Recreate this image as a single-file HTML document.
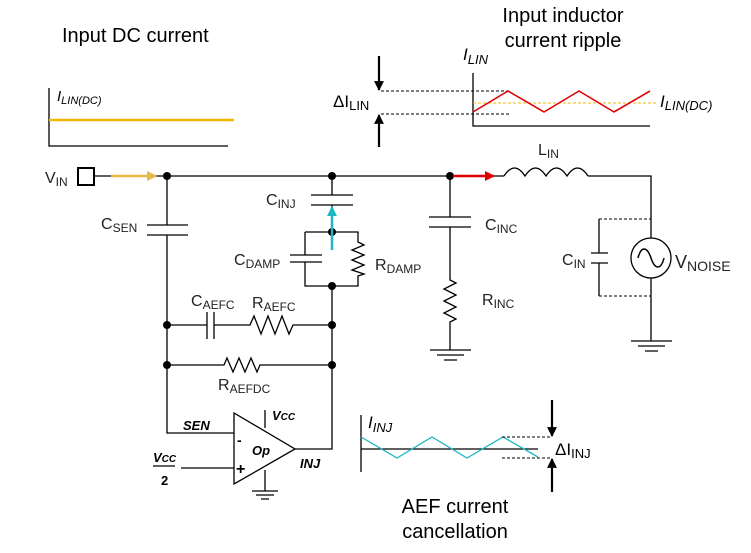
<!DOCTYPE html>
<html><head><meta charset="utf-8"><style>
html,body{margin:0;padding:0;background:#fff;width:751px;height:553px;overflow:hidden}
svg{display:block;font-family:"Liberation Sans",Arial,sans-serif}
</style></head><body>
<svg width="751" height="553" viewBox="0 0 751 553" xmlns="http://www.w3.org/2000/svg">
<defs>
<marker id="ay" viewBox="0 0 10 10" refX="9" refY="5" markerWidth="4" markerHeight="4" orient="auto"><path d="M0,0L10,5L0,10z" fill="#e6b84a"/></marker>
<marker id="ar" viewBox="0 0 10 10" refX="9" refY="5" markerWidth="4" markerHeight="4" orient="auto"><path d="M0,0L10,5L0,10z" fill="#e00000"/></marker>
<marker id="ac" viewBox="0 0 10 10" refX="9" refY="5" markerWidth="4" markerHeight="4" orient="auto"><path d="M0,0L10,5L0,10z" fill="#1ab8c4"/></marker>
<marker id="ak" viewBox="0 0 10 10" refX="9" refY="5" markerWidth="4.5" markerHeight="4.5" orient="auto"><path d="M0,0L10,5L0,10z" fill="#000"/></marker>
</defs>
<g font-size="20" fill="#000">
<text x="62" y="42">Input DC current</text>
<text x="563" y="22" text-anchor="middle">Input inductor</text>
<text x="563" y="47" text-anchor="middle">current ripple</text>
<text x="455" y="513" text-anchor="middle">AEF current</text>
<text x="455" y="538" text-anchor="middle">cancellation</text>
</g>
<path d="M49,88V146H228" stroke="#000" stroke-width="1.3" fill="none"/>
<line x1="49" y1="120" x2="234" y2="120" stroke="#f5b800" stroke-width="2.5"/>
<text x="57" y="101" font-size="15" font-style="italic">I<tspan font-size="11" dy="3">LIN(DC)</tspan></text>
<path d="M473,73V126H650" stroke="#000" stroke-width="1.3" fill="none"/>
<line x1="473" y1="103" x2="657" y2="103" stroke="#f5b800" stroke-width="1" stroke-dasharray="3,2"/>
<path d="M381,91H508M381,114H509" stroke="#000" stroke-width="1" stroke-dasharray="3,2"/>
<polyline points="473,112 508,91 544,112 579,91 614,112 650,91" fill="none" stroke="#e00000" stroke-width="1.6"/>
<line x1="379" y1="56" x2="379" y2="90" stroke="#000" stroke-width="2.2" marker-end="url(#ak)"/>
<line x1="379" y1="147" x2="379" y2="115" stroke="#000" stroke-width="2.2" marker-end="url(#ak)"/>
<text x="333" y="107" font-size="17">ΔI<tspan font-size="13" dy="3">LIN</tspan></text>
<text x="463" y="60" font-size="17" font-style="italic">I<tspan font-size="13" dy="4">LIN</tspan></text>
<text x="660" y="107" font-size="17" font-style="italic">I<tspan font-size="13" dy="3">LIN(DC)</tspan></text>
<g stroke="#000" stroke-width="1.3" fill="none">
<rect x="78" y="168" width="16" height="17" stroke-width="2"/>
<path d="M94,176H504M588,176H651V238M651,278V341"/>
<path d="M504,176 q10.5,-16 21,0 q10.5,-16 21,0 q10.5,-16 21,0 q10.5,-16 21,0"/>
<path d="M167,176V225M167,235V433H234"/>
<path d="M147,225H188M147,235H188"/>
<path d="M332,176V195M332,205V232M311,195H353M311,205H353"/>
<path d="M305,232H358V242l6,3l-12,5l12,5l-12,5l12,5l-12,5l12,4l-6,2V286H305V262M305,255V232"/>
<path d="M290,255H322M290,262H322"/>
<path d="M332,286V449H295"/>
<path d="M167,325H207M214,325H250l4,-9l7,18l7,-18l7,18l7,-18l7,18l4,-9H332"/>
<path d="M207,312V339M214,312V339"/>
<path d="M167,365H224l3,-7l6,14l6,-14l6,14l6,-14l6,14l3,-7H332"/>
<path d="M234,413V484L295,449Z"/>
<path d="M265,410V428M265,470V491M252,491H278M256,495H274M261,499H269"/>
<path d="M181,468H234"/>
<path d="M450,176V217M450,227V280l6,3l-12,6l12,6l-12,6l12,6l-12,6l12,6l-6,3V350M429,217H471M429,227H471M430,350H471M437,355H464M444,360H457"/>
<path d="M631,341H672M638,346H665M645,351H658"/>
<circle cx="651" cy="258" r="20"/>
<path d="M638,258 c3,-12 9,-12 13,0 c4,12 10,12 13,0" stroke-width="1.5"/>
<path d="M599,219V253M599,263V296M591,253H608M591,263H608"/>
</g>
<path d="M599,219H651M599,296H651" stroke="#000" stroke-width="1" stroke-dasharray="3,2"/>
<g fill="#000">
<circle cx="167" cy="176" r="4"/><circle cx="332" cy="176" r="4"/><circle cx="450" cy="176" r="4"/>
<circle cx="332" cy="232" r="4"/><circle cx="332" cy="286" r="4"/>
<circle cx="167" cy="325" r="4"/><circle cx="332" cy="325" r="4"/>
<circle cx="167" cy="365" r="4"/><circle cx="332" cy="365" r="4"/>
</g>
<line x1="111" y1="176" x2="156" y2="176" stroke="#e6b84a" stroke-width="2.5" marker-end="url(#ay)"/>
<line x1="453" y1="176" x2="494" y2="176" stroke="#e00000" stroke-width="2.5" marker-end="url(#ar)"/>
<line x1="332" y1="250" x2="332" y2="207" stroke="#1ab8c4" stroke-width="2.5" marker-end="url(#ac)"/>
<g font-size="16" fill="#222">
<text x="45" y="183">V<tspan font-size="12" dy="3">IN</tspan></text>
<text x="101" y="229">C<tspan font-size="12" dy="3">SEN</tspan></text>
<text x="266" y="205">C<tspan font-size="12" dy="3">INJ</tspan></text>
<text x="234" y="265">C<tspan font-size="12" dy="3">DAMP</tspan></text>
<text x="375" y="270">R<tspan font-size="12" dy="3">DAMP</tspan></text>
<text x="191" y="306">C<tspan font-size="12" dy="3">AEFC</tspan></text>
<text x="252" y="308">R<tspan font-size="12" dy="3">AEFC</tspan></text>
<text x="218" y="390">R<tspan font-size="12" dy="3">AEFDC</tspan></text>
<text x="485" y="230">C<tspan font-size="12" dy="3">INC</tspan></text>
<text x="482" y="305">R<tspan font-size="12" dy="3">INC</tspan></text>
<text x="538" y="155">L<tspan font-size="12" dy="3">IN</tspan></text>
<text x="562" y="265">C<tspan font-size="12" dy="3">IN</tspan></text>
<text x="675" y="268" font-size="18">V<tspan font-size="14" dy="3">NOISE</tspan></text>
</g>
<g font-size="13" font-weight="bold" font-style="italic" fill="#000">
<text x="183" y="430">SEN</text>
<text x="272" y="420">V<tspan font-size="10">CC</tspan></text>
<text x="252" y="455">Op</text>
<text x="300" y="468">INJ</text>
<text x="153" y="462">V<tspan font-size="10">CC</tspan></text>
<text x="161" y="485" font-style="normal">2</text>
<text x="237" y="445" font-size="14" font-style="normal">-</text>
<text x="236" y="474" font-size="16" font-style="normal">+</text>
</g>
<line x1="153" y1="466" x2="175" y2="466" stroke="#000" stroke-width="1.3"/>
<path d="M361,415V472M361,449H538" stroke="#000" stroke-width="1.3" fill="none"/>
<polyline points="361,437 397,458 432,437 467,458 503,437 538,457" fill="none" stroke="#1ab8c4" stroke-width="1.3"/>
<path d="M502,437H550M502,458H550" stroke="#000" stroke-width="1" stroke-dasharray="3,2"/>
<line x1="552" y1="400" x2="552" y2="436" stroke="#000" stroke-width="2.2" marker-end="url(#ak)"/>
<line x1="552" y1="492" x2="552" y2="459" stroke="#000" stroke-width="2.2" marker-end="url(#ak)"/>
<text x="368" y="428" font-size="17" font-style="italic">I<tspan font-size="13" dy="4">INJ</tspan></text>
<text x="555" y="455" font-size="17">ΔI<tspan font-size="13" dy="3">INJ</tspan></text>
</svg>
</body></html>
